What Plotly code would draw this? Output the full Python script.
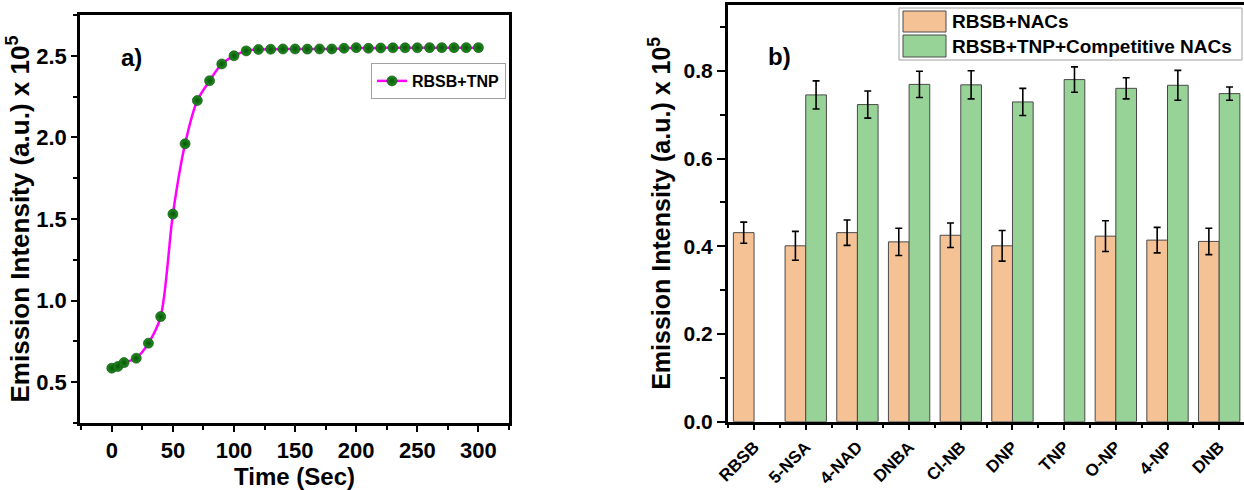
import plotly.graph_objects as go

# ---- Panel a: emission intensity vs time ----
time_s = [0, 5, 10, 20, 30, 40, 50, 60, 70, 80, 90, 100, 110, 120, 130, 140,
          150, 160, 170, 180, 190, 200, 210, 220, 230, 240, 250, 260, 270, 280,
          290, 300]
intensity = [0.586, 0.596, 0.620, 0.647, 0.739, 0.902, 1.530, 1.961, 2.226,
             2.347, 2.450, 2.500, 2.530, 2.539, 2.540, 2.542, 2.542, 2.541,
             2.542, 2.542, 2.546, 2.550, 2.546, 2.548, 2.549, 2.549, 2.549,
             2.550, 2.550, 2.550, 2.550, 2.550]

# ---- Panel b: selectivity / competition bars ----
analytes = ["RBSB", "5-NSA", "4-NAD", "DNBA", "Cl-NB", "DNP", "TNP", "O-NP",
            "4-NP", "DNB"]
nacs = [0.431, 0.401, 0.431, 0.410, 0.425, 0.401, None, 0.423, 0.414, 0.411]
nacs_err = [0.024, 0.033, 0.029, 0.031, 0.028, 0.035, None, 0.035, 0.029, 0.030]
competitive = [None, 0.745, 0.723, 0.769, 0.768, 0.729, 0.780, 0.760, 0.767,
               0.748]
competitive_err = [None, 0.032, 0.031, 0.030, 0.032, 0.031, 0.029, 0.024,
                   0.034, 0.015]

W, H = 1244, 490
FONT = "Liberation Sans"
ORANGE = "#F5C296"
GREEN = "#97D397"
EDGE = "#4a4a4a"


def px(x):
    return x / W


def py(y):
    return 1 - y / H


fig = go.Figure()

fig.add_trace(go.Scatter(
    x=time_s, y=intensity, mode="lines+markers", name="RBSB+TNP",
    line=dict(color="#FF00FF", width=2.5, shape="spline", smoothing=0.8),
    marker=dict(size=10, color="#1f8f1f",
                gradient=dict(type="radial", color="#0a520a"),
                line=dict(width=0.6, color="#094409")),
    xaxis="x", yaxis="y", legend="legend",
))

idx = list(range(len(analytes)))
fig.add_trace(go.Bar(
    x=idx, y=nacs, name="RBSB+NACs", marker=dict(color=ORANGE, line=dict(color=EDGE, width=1)),
    error_y=dict(type="data", array=nacs_err, color="black", thickness=1.6, width=3.5),
    xaxis="x2", yaxis="y2", showlegend=False,
))
fig.add_trace(go.Bar(
    x=idx, y=competitive, name="RBSB+TNP+Competitive NACs",
    marker=dict(color=GREEN, line=dict(color=EDGE, width=1)),
    error_y=dict(type="data", array=competitive_err, color="black", thickness=1.6, width=3.5),
    xaxis="x2", yaxis="y2", showlegend=False,
))

bold = dict(family=FONT, color="black", weight="bold")
axis_common = dict(showline=True, linecolor="black", linewidth=2.5, showgrid=False,
                   zeroline=False, ticks="outside", tickcolor="black", tickwidth=2,
                   automargin=False)

fig.update_layout(
    width=W, height=H, margin=dict(l=0, r=0, t=0, b=0, autoexpand=False),
    paper_bgcolor="white", plot_bgcolor="white",
    barmode="group", bargap=0.2, bargroupgap=0,
    font=dict(family=FONT, color="black"),
    xaxis=dict(**axis_common, domain=[px(80), px(509)], range=[-26, 325],
               mirror=True, dtick=50, tick0=0, ticklen=6,
               minor=dict(ticks="outside", dtick=25, ticklen=4, tickwidth=2, tickcolor="black"),
               tickfont=dict(size=22, **bold),
               title=dict(text="Time (Sec)", font=dict(size=24, **bold), standoff=0),
               anchor="y"),
    yaxis=dict(**axis_common, domain=[py(423), py(15)], range=[0.25, 2.75],
               mirror=True, dtick=0.5, tick0=0.5, ticklen=6, tickformat=".1f",
               minor=dict(ticks="outside", dtick=0.25, tick0=0.25, ticklen=4, tickwidth=2, tickcolor="black"),
               tickfont=dict(size=22, **bold),
               title=dict(text="Emission Intensity (a.u.) x 10<sup>5</sup>",
                          font=dict(size=26, **bold), standoff=0),
               anchor="x"),
    xaxis2=dict(**axis_common, domain=[px(727.7), 1.0], range=[-0.51, 9.48],
                mirror=True, tickvals=idx, ticktext=analytes, tickangle=-45, ticklen=6,
                minor=dict(ticks="outside", tick0=0.5, dtick=1, ticklen=4, tickwidth=2, tickcolor="black"),
                tickfont=dict(size=17, **bold), anchor="y2"),
    yaxis2=dict(**axis_common, domain=[py(421.7), py(5)], range=[0, 0.95],
                mirror=False, dtick=0.2, tick0=0, ticklen=8, tickformat=".1f",
                minor=dict(ticks="outside", dtick=0.1, ticklen=5, tickwidth=2, tickcolor="black"),
                tickfont=dict(size=21, **bold),
                title=dict(text="Emission Intensity (a.u.) x 10<sup>5</sup>",
                           font=dict(size=25, **bold), standoff=6),
                anchor="x2"),
    legend=dict(x=px(371), y=py(63), xanchor="left", yanchor="top",
                bgcolor="white", bordercolor="#a0a0a0", borderwidth=1,
                font=dict(size=16, **bold), itemwidth=30,
                tracegroupgap=0),
)

# panel labels
for text, x, y in [("a)", 131, 58), ("b)", 779, 57)]:
    fig.add_annotation(x=px(x), y=py(y), xref="paper", yref="paper", text=f"<b>{text}</b>",
                       showarrow=False, xanchor="center", yanchor="middle",
                       font=dict(size=24, family=FONT, color="black"))

# bar legend: frame, swatches and labels
fig.add_shape(type="rect", xref="paper", yref="paper", x0=px(899), x1=px(1242),
              y0=py(60), y1=py(8), line=dict(color="#a0a0a0", width=1), fillcolor="white",
              layer="above")
for (label, color, top, bottom) in [("RBSB+NACs", ORANGE, 11, 32),
                                    ("RBSB+TNP+Competitive NACs", GREEN, 35, 57)]:
    fig.add_shape(type="rect", xref="paper", yref="paper", x0=px(903), x1=px(946),
                  y0=py(bottom), y1=py(top), line=dict(color=EDGE, width=1),
                  fillcolor=color, layer="above")
    fig.add_annotation(x=px(950), y=py((top + bottom) / 2), xref="paper", yref="paper",
                       text=f"<b>{label}</b>", showarrow=False, xanchor="left",
                       yanchor="middle", font=dict(size=19, family=FONT, color="black"))

fig.write_html("out.html")
